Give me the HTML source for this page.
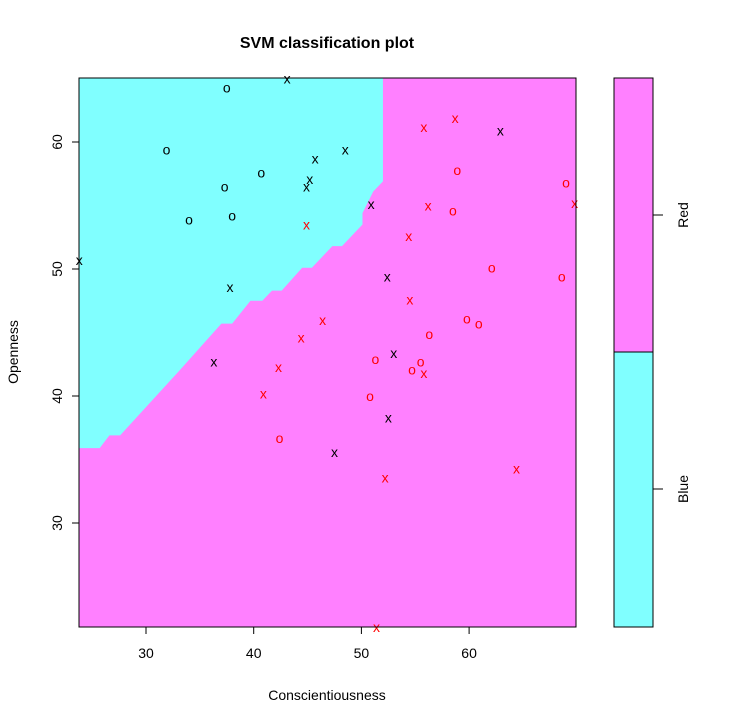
<!DOCTYPE html>
<html><head><meta charset="utf-8"><style>
body{margin:0;background:#fff;}
svg{display:block;font-family:"Liberation Sans",Arial,sans-serif;}
</style></head><body>
<svg id="chart" width="732" height="725" viewBox="0 0 732 725" xmlns="http://www.w3.org/2000/svg">
<rect x="0" y="0" width="732" height="725" fill="#fff"/>
<text x="327" y="48" text-anchor="middle" font-size="16" font-weight="bold">SVM classification plot</text>
<rect x="79" y="78" width="497" height="549" fill="#ff80ff"/>
<polygon id="blueRegion" fill="#80ffff"/>
<g id="points"></g>
<rect x="79" y="78" width="497" height="549" fill="none" stroke="#000" stroke-width="1"/>
<g id="xaxis"></g>
<g id="yaxis"></g>
<text x="327" y="700" text-anchor="middle" font-size="14">Conscientiousness</text>
<text transform="translate(18,352) rotate(-90)" text-anchor="middle" font-size="14">Openness</text>
<g>
<rect x="614" y="78" width="39" height="274" fill="#ff80ff" stroke="#000"/>
<rect x="614" y="352" width="39" height="275" fill="#80ffff" stroke="#000"/>
<line x1="653" y1="215" x2="663" y2="215" stroke="#000"/>
<line x1="653" y1="489" x2="663" y2="489" stroke="#000"/>
<text transform="translate(688,215) rotate(-90)" text-anchor="middle" font-size="14">Red</text>
<text transform="translate(688,489) rotate(-90)" text-anchor="middle" font-size="14">Blue</text>
</g>
</svg>
<script>
const xTicks=[30,40,50,60];
const yTicks=[30,40,50,60];
const blackO=[[37.5,64.3],[31.9,59.4],[37.3,56.5],[40.7,57.6],[34.0,53.9],[38.0,54.2]];
const blackX=[[43.1,65.0],[45.7,58.7],[48.5,59.4],[45.2,57.1],[44.9,56.5],[50.9,55.1],[23.8,50.7],[37.8,48.6],[62.9,60.9],[52.4,49.4],[36.3,42.7],[53.0,43.4],[52.5,38.3],[47.5,35.6]];
const redX=[[44.9,53.5],[55.8,61.2],[58.7,61.9],[56.2,55.0],[54.4,52.6],[54.5,47.6],[46.4,46.0],[44.4,44.6],[42.3,42.3],[40.9,40.2],[55.8,41.8],[52.2,33.6],[64.4,34.3],[51.4,21.8],[69.8,55.2]];
const redO=[[58.9,57.8],[69.0,56.8],[58.5,54.6],[62.1,50.1],[68.6,49.4],[59.8,46.1],[60.9,45.7],[56.3,44.9],[51.3,42.9],[55.5,42.7],[54.7,42.1],[50.8,40.0],[42.4,36.7]];
const boundary=[[52.0,65.0],[52.0,56.9],[51.1,56.1],[50.1,54.4],[50.1,53.5],[48.2,51.8],[47.3,51.8],[45.4,50.1],[44.5,50.1],[42.6,48.3],[41.7,48.3],[40.8,47.5],[39.7,47.5],[38.0,45.7],[37.0,45.7],[33.1,42.0],[27.6,36.9],[26.6,36.9],[25.7,35.9],[23.8,35.9],[23.8,65.0]];
const NS="http://www.w3.org/2000/svg";
function sx(v){return 146+(v-30)*10.77;}
function sy(v){return 142-(v-60)*12.7;}
const L=79,R=576,T=78,B=627;
function cx(x){return Math.max(L,Math.min(R,x));}
function cy(y){return Math.max(T,Math.min(B,y));}
document.getElementById('blueRegion').setAttribute('points',boundary.map(p=>cx(sx(p[0]))+','+cy(sy(p[1]))).join(' '));
const pg=document.getElementById('points');
function draw(arr,ch,col,name){
  arr.forEach(p=>{
    const t=document.createElementNS(NS,'text');
    t.setAttribute('x',sx(p[0]));
    t.setAttribute('y',sy(p[1])+5);
    t.setAttribute('text-anchor','middle');
    t.setAttribute('font-size','14');
    t.setAttribute('fill',col);
    
    
    t.textContent=ch;
    pg.appendChild(t);
  });
}
draw(blackO,'o','#000','point-blue-o');
draw(blackX,'x','#000','point-blue-x');
draw(redX,'x','#ff0000','point-red-x');
draw(redO,'o','#ff0000','point-red-o');
const xa=document.getElementById('xaxis');
xTicks.forEach(v=>{
  const l=document.createElementNS(NS,'line');
  l.setAttribute('x1',sx(v));l.setAttribute('x2',sx(v));
  l.setAttribute('y1',B);l.setAttribute('y2',B+7);
  l.setAttribute('stroke','#000');
  
  
  xa.appendChild(l);
  const t=document.createElementNS(NS,'text');
  t.setAttribute('x',sx(v));t.setAttribute('y',B+31);
  t.setAttribute('text-anchor','middle');t.setAttribute('font-size','14');
  
  
  t.textContent=v;xa.appendChild(t);
});
const ya=document.getElementById('yaxis');
yTicks.forEach(v=>{
  const l=document.createElementNS(NS,'line');
  l.setAttribute('x1',L-7);l.setAttribute('x2',L);
  l.setAttribute('y1',sy(v));l.setAttribute('y2',sy(v));
  l.setAttribute('stroke','#000');
  
  
  ya.appendChild(l);
  const t=document.createElementNS(NS,'text');
  t.setAttribute('transform','translate('+(L-17)+','+sy(v)+') rotate(-90)');
  t.setAttribute('text-anchor','middle');t.setAttribute('font-size','14');
  
  
  t.textContent=v;ya.appendChild(t);
});
</script>
</body></html>
